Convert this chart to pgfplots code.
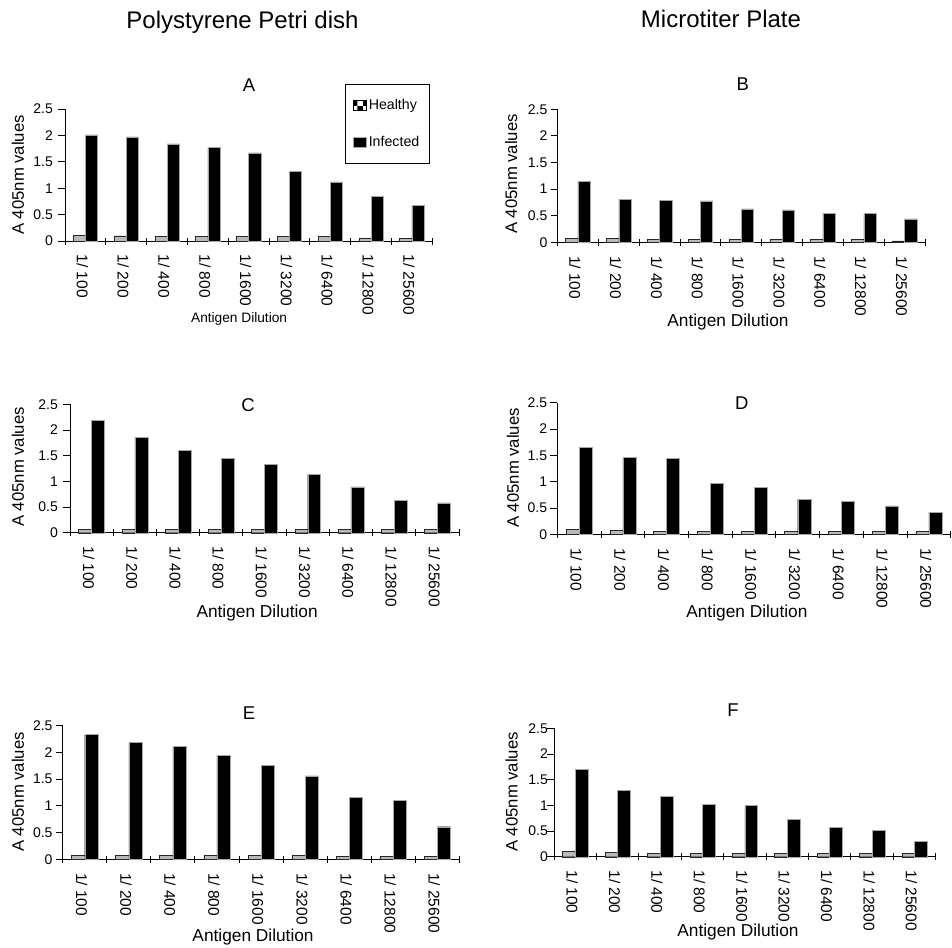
\documentclass[border=0pt]{standalone}
\usepackage{pgfplots}
\pgfplotsset{compat=1.18}
\usepackage{pgfplotstable}
\usetikzlibrary{patterns}
\usepackage{fontspec}
\setmainfont{Liberation Sans}

\pgfplotstableread{
x h i
0 0.11 2.01
1 0.10 1.97
2 0.09 1.84
3 0.09 1.77
4 0.09 1.67
5 0.09 1.32
6 0.09 1.12
7 0.06 0.85
8 0.05 0.68
}\dataA
\pgfplotstableread{
x h i
0 0.075 1.15
1 0.07 0.81
2 0.06 0.79
3 0.06 0.78
4 0.06 0.63
5 0.06 0.61
6 0.06 0.55
7 0.05 0.54
8 0.03 0.44
}\dataB
\pgfplotstableread{
x h i
0 0.065 2.19
1 0.065 1.86
2 0.065 1.61
3 0.06 1.45
4 0.06 1.33
5 0.06 1.13
6 0.06 0.89
7 0.06 0.63
8 0.06 0.58
}\dataC
\pgfplotstableread{
x h i
0 0.09 1.65
1 0.08 1.46
2 0.06 1.44
3 0.06 0.97
4 0.06 0.89
5 0.06 0.67
6 0.06 0.63
7 0.05 0.54
8 0.05 0.42
}\dataD
\pgfplotstableread{
x h i
0 0.08 2.34
1 0.08 2.19
2 0.08 2.11
3 0.07 1.95
4 0.07 1.76
5 0.07 1.56
6 0.06 1.16
7 0.06 1.10
8 0.06 0.61
}\dataE
\pgfplotstableread{
x h i
0 0.10 1.70
1 0.08 1.29
2 0.065 1.17
3 0.065 1.02
4 0.065 1.00
5 0.065 0.73
6 0.065 0.57
7 0.065 0.51
8 0.065 0.30
}\dataF

\pgfplotsset{
  panel/.style={
    scale only axis,
    ybar,
    xmin=-0.5, xmax=8.5, ymin=0, ymax=2.5,
    axis x line=bottom, axis y line=left,
    axis line style={-, line width=0.9pt},
    xtick={-0.5,0.5,1.5,2.5,3.5,4.5,5.5,6.5,7.5,8.5},
    x tick label as interval,
    xticklabels={1/ 100,1/ 200,1/ 400,1/ 800,1/ 1600,1/ 3200,1/ 6400,1/ 12800,1/ 25600},
    ytick={0,0.5,1,1.5,2,2.5},
    xtick align=center, ytick align=outside,
    major tick length=7pt,
    y tick style={black, line width=0.9pt},
    x tick style={black, line width=0.9pt},
    /pgf/number format/assume math mode=true,
    yticklabel style={font=\fontsize{14}{16}\selectfont, inner sep=0pt, anchor=east},
    xticklabel style={font=\fontsize{15.5}{18}\selectfont, xshift=-3pt, yshift=-10pt, rotate=-90, anchor=west, inner sep=0pt},
    ylabel={A 405nm values},
    xlabel={Antigen Dilution},
    ylabel style={font=\fontsize{16.7}{19}\selectfont, anchor=center, rotate=0},
    xlabel style={font=\fontsize{17.3}{19}\selectfont, anchor=center},
    title style={font=\fontsize{18.5}{21}\selectfont, anchor=center, yshift=-4pt},
    clip=false,
  },
  healthy/.style={draw=black!85, line width=0.4pt, fill=gray!55, bar width=0.3, bar shift=-0.15},
  infected/.style={draw=gray!70, line width=0.4pt, fill=black, bar width=0.3, bar shift=0.15},
}

\begin{document}
\begin{tikzpicture}
\useasboundingbox (0pt,0pt) rectangle (952pt,-947pt);
\node[anchor=base, font=\fontsize{24}{28}\selectfont] at (242.5pt,-29pt) {Polystyrene Petri dish};
\node[anchor=base, font=\fontsize{24}{28}\selectfont] at (721pt,-28pt) {Microtiter Plate};

% A
\begin{axis}[panel, at={(65pt,-241pt)}, anchor=south west, width=367.3pt, height=132pt,
  yticklabel style={xshift=-5pt},
  title={A}, title style={at={(axis description cs:0.501,1.167)}},
  ylabel style={at={(axis description cs:-0.128,0.5)}},
  xlabel style={at={(axis description cs:0.474,-0.591)}, font=\fontsize{13.7}{16}\selectfont},
  legend style={at={(axis description cs:0.762,1.189)}, anchor=north west, draw=black, line width=0.6pt,
    font=\fontsize{14.2}{16}\selectfont, inner xsep=8pt, inner ysep=13pt, row sep=21pt,
    legend cell align=left, nodes={inner sep=2pt}},
  legend image code/.code={\path[#1] (0pt,-5pt) rectangle (13pt,5pt);},
]
\addplot[healthy, forget plot] table[x=x,y=h] {\dataA};
\addlegendimage{draw=black, line width=0.6pt, pattern=checkerboard, pattern color=black}
\addlegendentry{Healthy}
\addplot[infected] table[x=x,y=i] {\dataA};
\addlegendentry{Infected}
\end{axis}

% B
\begin{axis}[panel, at={(557.5pt,-242.3pt)}, anchor=south west, width=367.5pt, height=133pt,
  yticklabel style={xshift=-3pt},
  title={B}, title style={at={(axis description cs:0.504,1.175)}},
  ylabel style={at={(axis description cs:-0.126,0.514)}},
  xlabel style={at={(axis description cs:0.464,-0.599)}},
]
\addplot[healthy] table[x=x,y=h] {\dataB};
\addplot[infected] table[x=x,y=i] {\dataB};
\end{axis}

% C
\begin{axis}[panel, at={(70pt,-532.7pt)}, anchor=south west, width=389pt, height=128.4pt,
  yticklabel style={xshift=-5pt},
  title={C}, title style={at={(axis description cs:0.458,0.979)}},
  ylabel style={at={(axis description cs:-0.134,0.512)}},
  xlabel style={at={(axis description cs:0.481,-0.625)}},
]
\addplot[healthy] table[x=x,y=h] {\dataC};
\addplot[infected] table[x=x,y=i] {\dataC};
\end{axis}

% D
\begin{axis}[panel, at={(557.3pt,-534.3pt)}, anchor=south west, width=393.4pt, height=131.6pt,
  yticklabel style={xshift=-3pt},
  title={D}, title style={at={(axis description cs:0.469,0.982)}},
  ylabel style={at={(axis description cs:-0.113,0.504)}},
  xlabel style={at={(axis description cs:0.482,-0.598)}},
]
\addplot[healthy] table[x=x,y=h] {\dataD};
\addplot[infected] table[x=x,y=i] {\dataD};
\end{axis}

% E
\begin{axis}[panel, at={(62.7pt,-859.3pt)}, anchor=south west, width=396.6pt, height=133.6pt,
  yticklabel style={xshift=-3pt},
  title={E}, title style={at={(axis description cs:0.470,1.081)}},
  ylabel style={at={(axis description cs:-0.113,0.504)}},
  xlabel style={at={(axis description cs:0.480,-0.582)}},
]
\addplot[healthy] table[x=x,y=h] {\dataE};
\addplot[infected] table[x=x,y=i] {\dataE};
\end{axis}

% F
\begin{axis}[panel, at={(554pt,-856.7pt)}, anchor=south west, width=381.7pt, height=128.4pt,
  yticklabel style={xshift=1pt},
  title={F}, title style={at={(axis description cs:0.469,1.127)}},
  ylabel style={at={(axis description cs:-0.111,0.504)}},
  xlabel style={at={(axis description cs:0.482,-0.586)}},
]
\addplot[healthy] table[x=x,y=h] {\dataF};
\addplot[infected] table[x=x,y=i] {\dataF};
\end{axis}
\end{tikzpicture}
\end{document}
